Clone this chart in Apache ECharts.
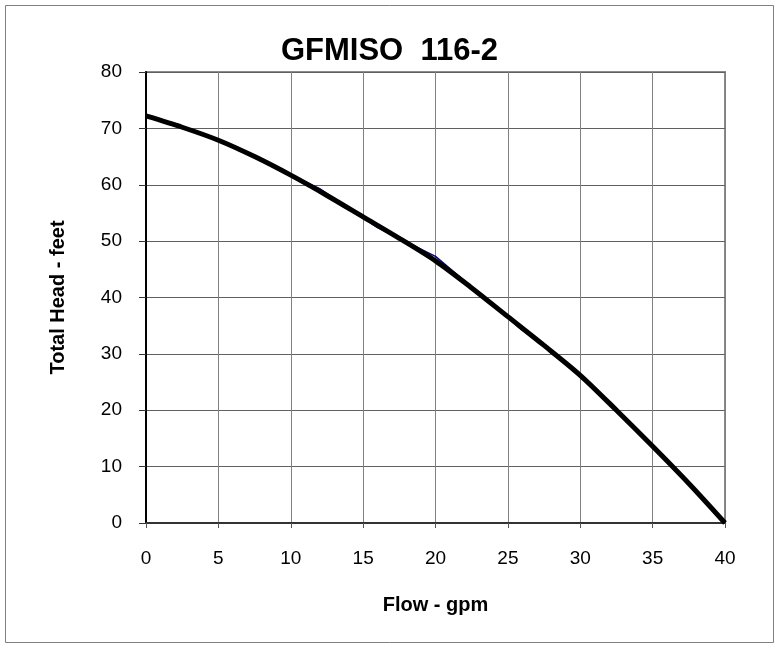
<!DOCTYPE html>
<html>
<head>
<meta charset="utf-8">
<script src="https://cdn.jsdelivr.net/npm/echarts@6/dist/echarts.min.js"></script>
<style>
  html, body { margin: 0; padding: 0; background: #fff; }
  #chart { width: 779px; height: 648px; }
</style>
</head>
<body>
<div id="chart"></div>
<script>
// measured points (thin blue line)
let dataFlow = [0, 5, 10, 12, 16, 20, 23, 26, 28, 32, 36, 40];
let dataHead = [72.2, 67.9, 61.8, 59.3, 52.4, 47.3, 40.8, 34.2, 30.4, 21.4, 11.0, 0];

// fitted curve (thick black line)
let fitFlow = [0, 2.5, 5, 7.5, 10, 12.5, 15, 17.5, 20, 22.5, 25, 27.5, 30, 32.5, 35, 37.5, 40];
let fitHead = [72.2, 70.2, 67.9, 65.0, 61.7, 58.1, 54.3, 50.5, 46.5, 41.7, 36.6, 31.5, 26.2, 20.0, 13.6, 7.0, 0];

let xTicks = [0, 5, 10, 15, 20, 25, 30, 35, 40];
let yTicks = [0, 10, 20, 30, 40, 50, 60, 70, 80];

let font = 'Liberation Sans, Arial, sans-serif';

let myChart = echarts.init(document.getElementById('chart'));

let pairs = (xs, ys) => xs.map((x, i) => [x, ys[i]]);

let options = {
  animation: false,
  backgroundColor: '#fff',
  title: {
    text: 'GFMISO  116-2',
    left: 'center',
    top: 31,
    textStyle: { fontFamily: font, fontSize: 31, fontWeight: 'bold', color: '#000' }
  },
  graphic: [{
    type: 'rect',
    shape: { x: 5.5, y: 5.5, width: 768, height: 637 },
    style: { fill: 'none', stroke: '#808080', lineWidth: 1 },
    silent: true
  }],
  grid: {
    left: 146, right: 54, top: 72, bottom: 125,
    show: true,
    borderColor: '#8a8a8a',
    borderWidth: 2
  },
  xAxis: {
    type: 'value',
    min: xTicks[0], max: xTicks[xTicks.length - 1], interval: 5,
    name: 'Flow - gpm',
    nameLocation: 'middle',
    nameGap: 72,
    nameTextStyle: { fontFamily: font, fontSize: 20, fontWeight: 'bold', color: '#000' },
    axisLine: { onZero: false, lineStyle: { color: '#333', width: 2 } },
    axisTick: { show: true, length: 5, lineStyle: { color: '#555' } },
    axisLabel: { fontFamily: font, fontSize: 19, color: '#000', margin: 26 },
    splitLine: { show: true, lineStyle: { color: '#808080', width: 1 } }
  },
  yAxis: {
    type: 'value',
    min: yTicks[0], max: yTicks[yTicks.length - 1], interval: 10,
    name: 'Total Head - feet',
    nameLocation: 'middle',
    nameGap: 78,
    nameTextStyle: { fontFamily: font, fontSize: 20, fontWeight: 'bold', color: '#000' },
    axisLine: { show: true, onZero: false, lineStyle: { color: '#000', width: 2 } },
    axisTick: { show: true, length: 7, lineStyle: { color: '#333' } },
    axisLabel: { fontFamily: font, fontSize: 19, color: '#000', margin: 24 },
    splitLine: { show: true, lineStyle: { color: '#606060', width: 1 } }
  },
  series: [
    {
      type: 'line',
      data: pairs(dataFlow, dataHead),
      showSymbol: false,
      lineStyle: { color: '#000080', width: 1.5 },
      z: 2
    },
    {
      type: 'line',
      data: pairs(fitFlow, fitHead),
      smooth: 0.3,
      showSymbol: false,
      lineStyle: { color: '#000', width: 5 },
      z: 3
    }
  ]
};

myChart.setOption(options, true);
</script>
</body>
</html>
